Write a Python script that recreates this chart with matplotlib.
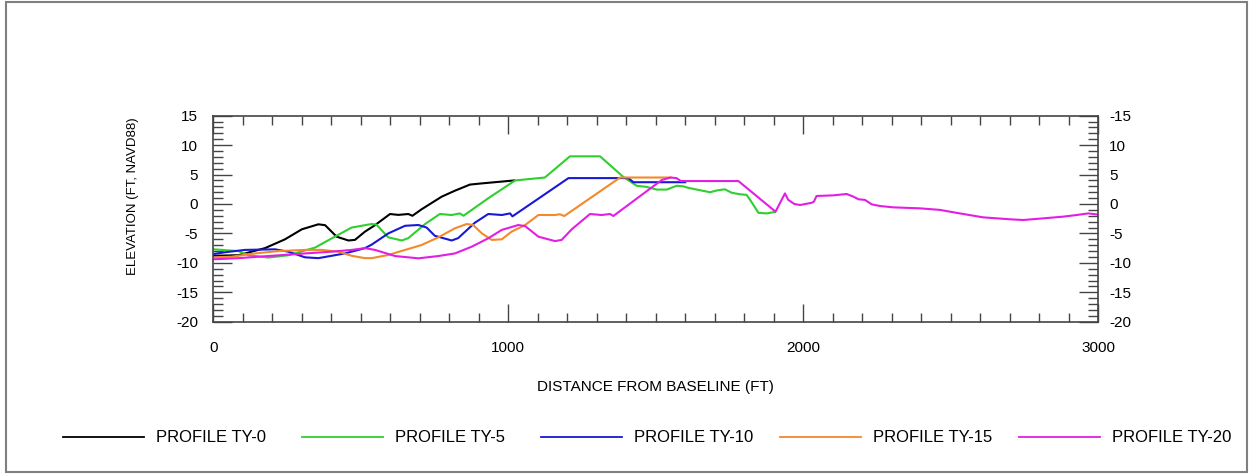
import matplotlib.pyplot as plt
from matplotlib.lines import Line2D
from matplotlib.patches import Rectangle
from matplotlib.ticker import MultipleLocator

plt.rcParams['font.family'] = ['Liberation Sans', 'DejaVu Sans']
plt.rcParams['axes.unicode_minus'] = False

# Beach profile cross sections (distance ft, elevation ft NAVD88)
ty0_x = [0, 85, 175, 243, 300, 356, 379, 418, 458, 480, 514, 548, 599, 627, 661, 675,
         706, 774, 819, 870, 910, 1011, 1020]
ty0_y = [-8.8, -8.7, -7.5, -6.0, -4.3, -3.45, -3.6, -5.55, -6.2, -6.1, -4.7, -3.6, -1.7,
         -1.85, -1.7, -2.0, -0.9, 1.24, 2.26, 3.3, 3.5, 3.96, 4.0]

ty5_x = [0, 85, 119, 187, 255, 345, 412, 469, 514, 537, 553, 593, 639, 661, 718, 768,
         808, 836, 848, 932, 1023, 1124, 1209, 1311, 1390, 1435, 1469, 1503, 1537, 1571,
         1593, 1610, 1644, 1684, 1707, 1734, 1758, 1786, 1808, 1825, 1848, 1876, 1904]
ty5_y = [-7.7, -8.0, -8.7, -9.1, -8.7, -7.4, -5.55, -4.0, -3.6, -3.4, -3.5, -5.66, -6.2,
         -5.8, -3.4, -1.7, -1.87, -1.6, -2.0, 0.97, 4.0, 4.5, 8.1, 8.1, 4.6, 3.1, 2.9,
         2.45, 2.45, 3.1, 3.0, 2.75, 2.4, 2.0, 2.3, 2.5, 1.9, 1.65, 1.55, 0.3, -1.5,
         -1.6, -1.35]

ty10_x = [0, 40, 107, 209, 254, 311, 356, 401, 446, 514, 537, 593, 650, 695, 723, 751,
          808, 830, 887, 932, 978, 1006, 1014, 1204, 1407, 1424, 1600]
ty10_y = [-8.5, -8.2, -7.8, -7.7, -8.1, -9.06, -9.2, -8.8, -8.4, -7.5, -6.9, -5.0, -3.7,
          -3.57, -4.0, -5.4, -6.2, -5.8, -3.17, -1.7, -1.87, -1.6, -2.1, 4.4, 4.4,
          3.7, 3.7]

ty15_x = [0, 62, 141, 221, 311, 367, 424, 469, 514, 537, 593, 650, 706, 763, 819, 859,
          881, 910, 944, 978, 1011, 1057, 1102, 1158, 1175, 1190, 1379, 1550]
ty15_y = [-9.06, -8.95, -8.4, -8.0, -7.8, -7.8, -8.1, -8.8, -9.2, -9.2, -8.66, -7.8,
          -6.97, -5.66, -4.13, -3.4, -3.57, -4.98, -6.1, -6.0, -4.7, -3.57, -1.87,
          -1.87, -1.75, -2.04, 4.5, 4.5]

ty20_x = [0, 85, 198, 311, 401, 469, 514, 548, 616, 695, 763, 819, 876, 932, 978, 1034,
          1057, 1102, 1158, 1181, 1215, 1277, 1316, 1345, 1356, 1520, 1550, 1570, 1585,
          1780, 1906, 1938, 1949, 1970, 1989, 2028, 2036, 2045, 2102, 2147, 2170, 2187,
          2209, 2232, 2260, 2305, 2396, 2463, 2531, 2610, 2701, 2746, 2813, 2881, 2927,
          2966, 3000]
ty20_y = [-9.4, -9.2, -8.8, -8.4, -8.1, -7.8, -7.5, -7.8, -8.84, -9.23, -8.84, -8.4,
          -7.25, -5.83, -4.4, -3.57, -3.75, -5.55, -6.3, -6.1, -4.3, -1.7, -1.87, -1.7,
          -2.04, 4.07, 4.5, 4.4, 3.9, 3.9, -1.3, 1.8, 0.7, 0.0, -0.17, 0.2, 0.4, 1.36,
          1.47, 1.7, 1.25, 0.8, 0.7, -0.06, -0.34, -0.57, -0.74, -1.0, -1.6, -2.27,
          -2.6, -2.72, -2.44, -2.15, -1.87, -1.6, -1.8]

profiles = [
    ('PROFILE TY-0', ty0_x, ty0_y, '#000000'),
    ('PROFILE TY-5', ty5_x, ty5_y, '#2fcf2f'),
    ('PROFILE TY-10', ty10_x, ty10_y, '#1818d6'),
    ('PROFILE TY-15', ty15_x, ty15_y, '#f5892a'),
    ('PROFILE TY-20', ty20_x, ty20_y, '#e31ee3'),
]

y_ticks = [15, 10, 5, 0, -5, -10, -15, -20]
right_labels = ['-15', '10', '5', '0', '-5', '-10', '-15', '-20']
x_ticks = [0, 1000, 2000, 3000]

fig = plt.figure(figsize=(12.49, 4.75), dpi=100)
ax = fig.add_axes([0.1708, 0.3227, 0.7085, 0.4337])

for label, xs, ys, color in profiles:
    ax.plot(xs, ys, color=color, linewidth=1.5, label=label)

ax.set_xlim(0, 3000)
ax.set_ylim(-20, 15)
ax.set_xticks(x_ticks)
ax.set_yticks(y_ticks)
ax.xaxis.set_minor_locator(MultipleLocator(100))
ax.yaxis.set_minor_locator(MultipleLocator(1))

spine_color = '#444444'
for spine in ax.spines.values():
    spine.set_color(spine_color)
    spine.set_linewidth(1.2)

ax.tick_params(axis='x', which='both', direction='in', top=True, colors=spine_color,
               labelcolor='black', labelsize=11, pad=14)
ax.tick_params(axis='x', which='major', length=13, width=1)
ax.tick_params(axis='x', which='minor', length=6.5, width=1)
ax.tick_params(axis='y', which='both', direction='in', colors=spine_color,
               labelcolor='black', labelsize=11, pad=11)
ax.tick_params(axis='y', which='major', length=14, width=1)
ax.tick_params(axis='y', which='minor', length=7.5, width=1)

# right-hand elevation scale
ax2 = ax.twinx()
ax2.set_ylim(-20, 15)
ax2.set_yticks(y_ticks)
ax2.set_yticklabels(right_labels)
ax2.yaxis.set_minor_locator(MultipleLocator(1))
ax2.tick_params(axis='y', which='both', direction='in', colors=spine_color,
                labelcolor='black', labelsize=11, pad=8)
ax2.tick_params(axis='y', which='major', length=14, width=1)
ax2.tick_params(axis='y', which='minor', length=7.5, width=1)
for spine in ax2.spines.values():
    spine.set_visible(False)

ax.set_xlabel('DISTANCE FROM BASELINE (FT)', fontsize=11, labelpad=18)
ax.set_ylabel('ELEVATION (FT, NAVD88)', fontsize=9.5)
ax.yaxis.set_label_coords(-0.084, 0.61)

# legend row along the bottom
leg_y = 0.08
for i, (label, xs, ys, color) in enumerate(profiles):
    x0 = (63 + i * 239) / 1249
    x1 = x0 + 81 / 1249
    fig.add_artist(Line2D([x0, x1], [leg_y, leg_y], color=color, linewidth=1.3,
                          transform=fig.transFigure))
    fig.text(x1 + 12 / 1249, leg_y, label, fontsize=12, va='center', ha='left')

fig.add_artist(Rectangle((0.005, 0.006), 0.993, 0.99, transform=fig.transFigure,
                         fill=False, edgecolor='#7f7f7f', linewidth=1.5))

fig.savefig('out.png', dpi=100)
